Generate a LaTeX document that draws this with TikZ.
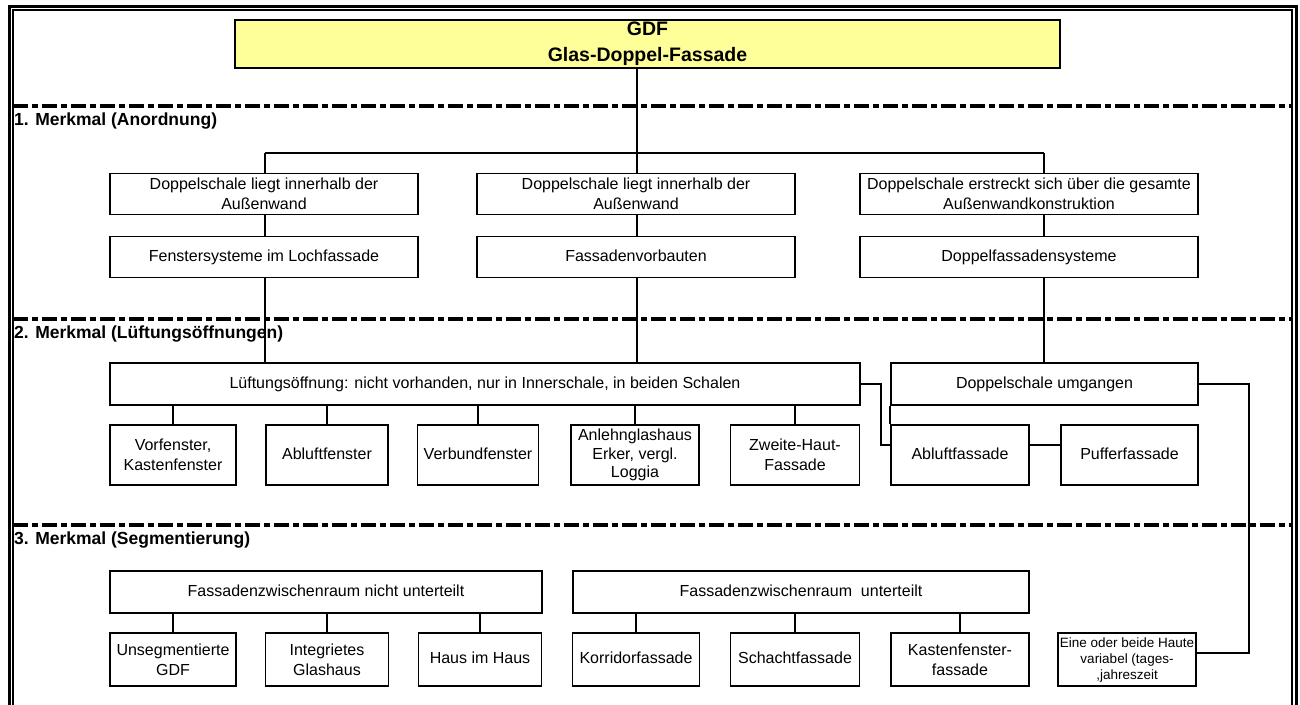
\documentclass[tikz,border=0pt]{standalone}
\usepackage{fontspec}
\setmainfont{Liberation Sans}
\definecolor{gdfgelb}{HTML}{FFFF99}

\begin{document}
\begin{tikzpicture}[x=1pt, y=-1pt,
        box/.style={draw, line width=1.8pt, inner sep=1pt, align=center, font=\fontsize{16}{20}\selectfont},
        zeile/.style={text height=11.5pt, text depth=3.5pt},
        linie/.style={line width=1.8pt},
        trenner/.style={line width=4pt, dash pattern=on 15pt off 4pt on 6pt off 4pt},
        merkmal/.style={anchor=north west, inner sep=1pt, font=\bfseries\fontsize{17.5}{20}\selectfont}]
        \useasboundingbox (0,0) rectangle (1300,704);

        % Rahmen
        \draw[line width=3pt] (9,720) -- (9,6) -- (1296,6) -- (1296,720);
        \draw[line width=1.3pt] (13,720) -- (13,10) -- (1292,10) -- (1292,720);

        % Trennlinien und Merkmale
        \foreach \y in {106,319,525}
            \draw[trenner] (13,\y) -- (1292,\y);
        \node[merkmal] (m1) at (13,112) {1. Merkmal (Anordnung)};
        \node[merkmal] (m2) at (13,325) {2. Merkmal (Lüftungsöffnungen)};
        \node[merkmal] (m3) at (13,531) {3. Merkmal (Segmentierung)};

        % Kopf
        \node[box, fill=gdfgelb, minimum width=825, minimum height=48, font=\bfseries\fontsize{19.5}{26}\selectfont] (gdf) at (647.5,44) {GDF\\Glas-Doppel-Fassade};

        % 1. Merkmal
        \node[box, minimum width=308, minimum height=41] (ausw1) at (264,194) {Doppelschale liegt innerhalb der\\Außenwand};
        \node[box, minimum width=318, minimum height=41] (ausw2) at (636,194) {Doppelschale liegt innerhalb der\\Außenwand};
        \node[box, minimum width=338, minimum height=41] (ausw3) at (1029,194) {Doppelschale erstreckt sich über die gesamte\\Außenwandkonstruktion};
        \node[box, zeile, minimum width=308, minimum height=41] (fenster) at (264,257) {Fenstersysteme im Lochfassade};
        \node[box, zeile, minimum width=318, minimum height=41] (vorbau) at (636,257) {Fassadenvorbauten};
        \node[box, zeile, minimum width=338, minimum height=41] (doppel) at (1029,257) {Doppelfassadensysteme};

        % 2. Merkmal
        \node[box, zeile, minimum width=750, minimum height=42] (lueft) at (485,384) {Lüftungsöffnung: nicht vorhanden, nur in Innerschale, in beiden Schalen};
        \node[box, zeile, minimum width=307, minimum height=42] (umg) at (1044.5,384) {Doppelschale umgangen};
        \node[box, minimum width=126, minimum height=60] (vorf) at (173,455) {Vorfenster,\\Kastenfenster};
        \node[box, zeile, minimum width=122, minimum height=60] (abfen) at (327,455) {Abluftfenster};
        \node[box, zeile, minimum width=121, minimum height=60] (verb) at (478,455) {Verbundfenster};
        \node[box, minimum width=128, minimum height=60, font=\fontsize{16}{18.5}\selectfont] (anlehn) at (635,455) {Anlehnglashaus\\Erker, vergl.\\Loggia};
        \node[box, minimum width=129, minimum height=60] (zweite) at (795,455) {Zweite-Haut-\\Fassade};
        \node[box, zeile, minimum width=138, minimum height=60] (abfas) at (960,455) {Abluftfassade};
        \node[box, zeile, minimum width=137, minimum height=60] (puffer) at (1129.5,455) {Pufferfassade};

        % 3. Merkmal
        \node[box, zeile, minimum width=432, minimum height=42] (seg1) at (326,592) {Fassadenzwischenraum nicht unterteilt};
        \node[box, zeile, minimum width=456, minimum height=42] (seg2) at (801,592) {Fassadenzwischenraum~ unterteilt};
        \node[box, minimum width=126, minimum height=53] (unseg) at (173,659.5) {Unsegmentierte\\GDF};
        \node[box, minimum width=123, minimum height=53] (integ) at (327,659.5) {Integrietes\\Glashaus};
        \node[box, zeile, minimum width=123, minimum height=53] (haus) at (480,659.5) {Haus im Haus};
        \node[box, zeile, minimum width=127, minimum height=53] (korr) at (636,659.5) {Korridorfassade};
        \node[box, zeile, minimum width=129, minimum height=53] (schacht) at (795,659.5) {Schachtfassade};
        \node[box, minimum width=138, minimum height=53] (kasten) at (960,659.5) {Kastenfenster-\\fassade};
        \node[box, minimum width=138, minimum height=53, inner sep=0.5pt, font=\fontsize{13.5}{16}\selectfont] (eine) at (1127,659.5) {Eine oder beide Haute\\variabel (tages-\\,jahreszeit};

        % Verbindungen
        \coordinate (bus) at (637,153);
        \coordinate (sa) at (265,153);
        \coordinate (sc) at (1044,153);
        \coordinate (knick) at (881,445);
        \coordinate (rechts) at (1249,653);
        \draw[linie] (gdf.south -| bus) -- (bus);
        \draw[linie] (sa) -- (sc);
        \draw[linie] (sa) -- (sa |- ausw1.north);
        \draw[linie] (bus) -- (bus |- ausw2.north);
        \draw[linie] (sc) -- (sc |- ausw3.north);
        \draw[linie] (sa |- ausw1.south) -- (sa |- fenster.north);
        \draw[linie] (bus |- ausw2.south) -- (bus |- vorbau.north);
        \draw[linie] (sc |- ausw3.south) -- (sc |- doppel.north);
        \draw[linie] (sa |- fenster.south) -- (sa |- lueft.north);
        \draw[linie] (bus |- vorbau.south) -- (bus |- lueft.north);
        \draw[linie] (sc |- doppel.south) -- (sc |- umg.north);
        \foreach \n in {vorf,abfen,verb,anlehn,zweite}
            \draw[linie] (lueft.south -| \n.north) -- (\n.north);
        \draw[linie] (lueft.east) -| (knick) -- (knick -| abfas.west);
        \draw[linie] (umg.south west) -- (abfas.north west);
        \draw[linie] (knick -| abfas.east) -- (knick -| puffer.west);
        \draw[linie] (umg.east) -| (rechts) -- (rechts -| eine.east);
        \foreach \n in {unseg,integ,haus}
            \draw[linie] (seg1.south -| \n.north) -- (\n.north);
        \foreach \n in {korr,schacht,kasten}
            \draw[linie] (seg2.south -| \n.north) -- (\n.north);
    \end{tikzpicture}
\end{document}
